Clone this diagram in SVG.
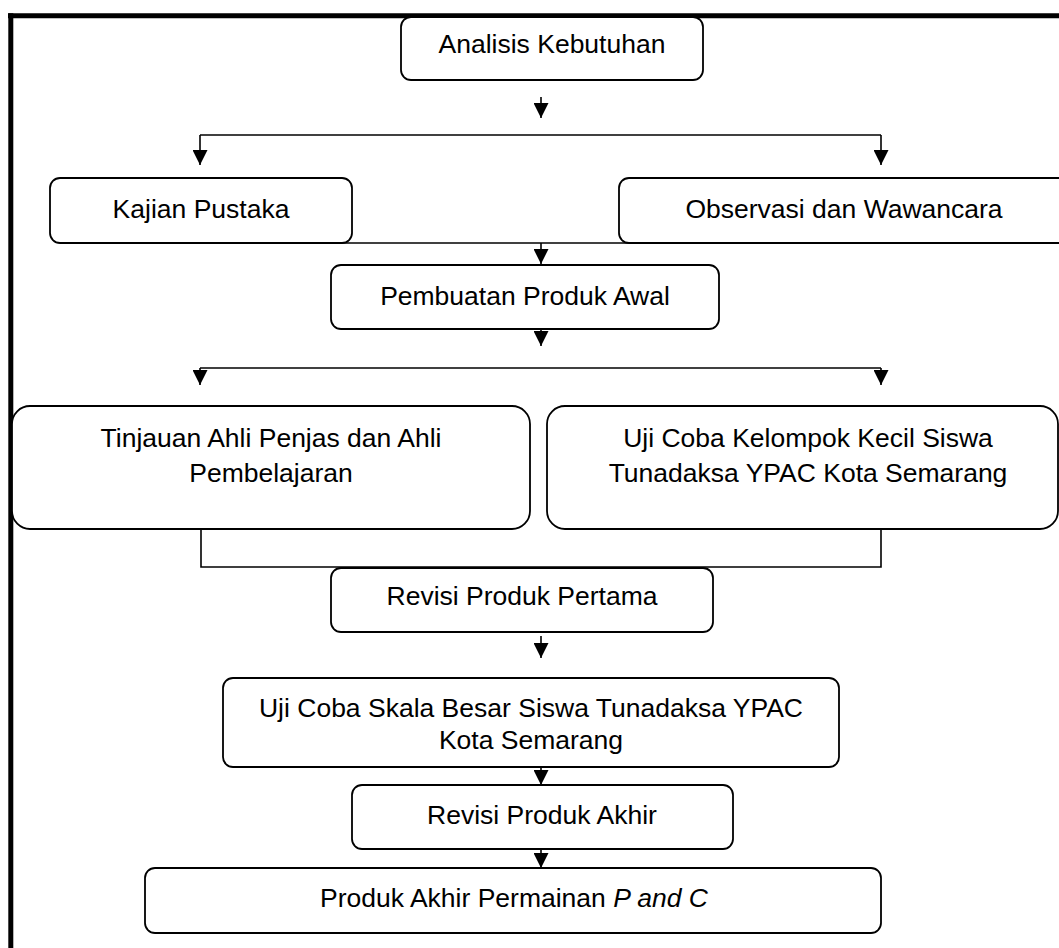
<svg xmlns="http://www.w3.org/2000/svg" width="1059" height="948" viewBox="0 0 1059 948">
<style>
.box{fill:#fff;stroke:#000;stroke-width:1.8}
.t{font-family:"Liberation Sans",Arial,sans-serif;font-size:26.5px;fill:#000;text-anchor:middle}
.c{fill:none;stroke:#000;stroke-width:1.6}
.a{fill:none;stroke:#000;stroke-width:1.6;marker-end:url(#ah)}
</style>
<defs>
<marker id="ah" markerUnits="userSpaceOnUse" markerWidth="15" markerHeight="15" refX="15" refY="7.5" orient="auto" viewBox="0 0 15 15">
<path d="M0,0 L15,7.5 L0,15 z" fill="#000"/>
</marker>
</defs>
<rect width="1059" height="948" fill="#fff"/>
<g id="frame">
<line x1="8" y1="15.8" x2="1059" y2="15.8" stroke="#000" stroke-width="5"/>
<line x1="10.8" y1="13.3" x2="10.8" y2="948" stroke="#000" stroke-width="5"/>
</g>
<g id="connectors">
<path class="a" d="M541,97 V118"/>
<path class="c" d="M200,135 H881"/>
<path class="a" d="M200,135 V165"/>
<path class="a" d="M881,135 V165"/>
<path class="c" d="M200,243 H881"/>
<path class="a" d="M541,243 V264"/>
<path class="a" d="M541,329 V346"/>
<path class="c" d="M200,368 H881"/>
<path class="a" d="M200,368 V385"/>
<path class="a" d="M881,368 V385"/>
<path class="c" d="M201,529 V567 H881 V529"/>
<path class="a" d="M541,636 V658"/>
<path class="a" d="M541,767 V785"/>
<path class="a" d="M541,849 V868"/>
</g>
<g id="n1"><rect class="box" x="401" y="17" width="302" height="63" rx="10"/><text class="t" x="552" y="53">Analisis Kebutuhan</text></g>
<g id="n2"><rect class="box" x="50" y="178" width="302" height="65" rx="10"/><text class="t" x="201" y="218">Kajian Pustaka</text></g>
<g id="n3"><rect class="box" x="619" y="178" width="460" height="65" rx="10"/><text class="t" x="844" y="218">Observasi dan Wawancara</text></g>
<g id="n4"><rect class="box" x="331" y="265" width="388" height="64" rx="10"/><text class="t" x="525" y="305">Pembuatan Produk Awal</text></g>
<g id="n5"><rect class="box" x="12" y="406" width="518" height="123" rx="18"/><text class="t" x="271" y="447">Tinjauan Ahli Penjas dan Ahli</text><text class="t" x="271" y="482">Pembelajaran</text></g>
<g id="n6"><rect class="box" x="547" y="406" width="511" height="123" rx="18"/><text class="t" x="808" y="447">Uji Coba Kelompok Kecil Siswa</text><text class="t" x="808" y="482">Tunadaksa YPAC Kota Semarang</text></g>
<g id="n7"><rect class="box" x="331" y="568" width="382" height="64" rx="10"/><text class="t" x="522" y="605">Revisi Produk Pertama</text></g>
<g id="n8"><rect class="box" x="223" y="678" width="616" height="89" rx="10"/><text class="t" x="531" y="717">Uji Coba Skala Besar Siswa Tunadaksa YPAC</text><text class="t" x="531" y="749">Kota Semarang</text></g>
<g id="n9"><rect class="box" x="352" y="785" width="381" height="64" rx="10"/><text class="t" x="542" y="824">Revisi Produk Akhir</text></g>
<g id="n10"><rect class="box" x="145" y="868" width="736" height="65" rx="10"/><text class="t" x="514" y="907">Produk Akhir Permainan <tspan font-style="italic">P and C</tspan></text></g>
</svg>
